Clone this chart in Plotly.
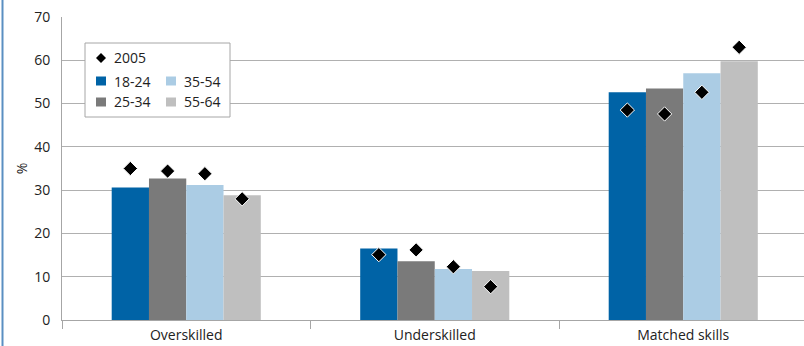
import plotly.graph_objects as go

categories = ["Overskilled", "Underskilled", "Matched skills"]
age_groups = ["18-24", "25-34", "35-54", "55-64"]

# latest values (bars)
v_18_24 = [30.6, 16.5, 52.6]
v_25_34 = [32.7, 13.6, 53.5]
v_35_54 = [31.2, 11.8, 57.0]
v_55_64 = [28.8, 11.3, 59.8]

# 2005 values (diamonds)
y2005_18_24 = [35.0, 15.1, 48.5]
y2005_25_34 = [34.4, 16.2, 47.6]
y2005_35_54 = [33.8, 12.3, 52.6]
y2005_55_64 = [28.0, 7.7, 63.0]

y_ticks = [0, 10, 20, 30, 40, 50, 60, 70]
y_title = "%"
marker_name = "2005"

bar_values = [v_18_24, v_25_34, v_35_54, v_55_64]
dot_values = [y2005_18_24, y2005_25_34, y2005_35_54, y2005_55_64]
colors = ["#0063A6", "#7A7A7A", "#ABCCE4", "#BFBFBF"]

W, H = 804, 346
ML, MR, MT, MB = 62, 0, 17, 26
PW, PH = W - ML - MR, H - MT - MB
FONT = "Open Sans"
TXT = "#222222"


def px(x):
    return (x - ML) / PW


def py(y):
    return (H - MB - y) / PH


fig = go.Figure()
for i, (name, vals) in enumerate(zip(age_groups, bar_values)):
    fig.add_trace(go.Bar(
        x=categories, y=vals, name=name, marker_color=colors[i],
        marker_line_width=0, offsetgroup=str(i), showlegend=False,
    ))
for i, vals in enumerate(dot_values):
    fig.add_trace(go.Scatter(
        x=categories, y=vals, mode="markers", name=marker_name,
        offsetgroup=str(i), showlegend=False,
        marker=dict(symbol="diamond", size=11, color="black",
                    line=dict(color="white", width=1)),
    ))

cat_w = 248.5
shapes = []
annotations = []

# left border line
shapes.append(dict(type="line", xref="paper", yref="paper",
                   x0=px(2.5), x1=px(2.5), y0=py(H), y1=py(0),
                   line=dict(color="#5A8FC2", width=2)))

# manual legend box
shapes.append(dict(type="rect", xref="paper", yref="paper",
                   x0=px(85), x1=px(230), y0=py(117), y1=py(43),
                   fillcolor="white", line=dict(color="#A6A6A6", width=1),
                   layer="above"))
# diamond entry
cx, cy, r = 101, 58, 5
path = (f"M {px(cx - r)},{py(cy)} L {px(cx)},{py(cy - r)} "
        f"L {px(cx + r)},{py(cy)} L {px(cx)},{py(cy + r)} Z")
shapes.append(dict(type="path", xref="paper", yref="paper", path=path,
                   fillcolor="black", line=dict(width=0), layer="above"))
annotations.append(dict(x=px(112), y=py(cy), xref="paper", yref="paper",
                        text=marker_name, showarrow=False, xanchor="left",
                        yanchor="middle", font=dict(family=FONT, size=14, color=TXT)))
# square entries: column-wise 18-24,25-34 | 35-54,55-64
positions = [(101, 81), (101, 102), (171, 81), (171, 102)]
for i, name in enumerate(age_groups):
    sx, sy = positions[i]
    shapes.append(dict(type="rect", xref="paper", yref="paper",
                       x0=px(sx - 5), x1=px(sx + 5), y0=py(sy + 4.5), y1=py(sy - 4.5),
                       fillcolor=colors[i], line=dict(width=0), layer="above"))
    annotations.append(dict(x=px(sx + 11), y=py(sy), xref="paper", yref="paper",
                            text=name, showarrow=False, xanchor="left",
                            yanchor="middle",
                            font=dict(family=FONT, size=14, color=TXT)))

fig.update_layout(
    width=W, height=H,
    margin=dict(l=ML, r=MR, t=MT, b=MB, autoexpand=False),
    paper_bgcolor="white", plot_bgcolor="white",
    barmode="group", bargap=0.4, bargroupgap=0,
    scattermode="group", scattergap=0.4,
    font=dict(family=FONT, size=13, color=TXT),
    shapes=shapes, annotations=annotations,
    xaxis=dict(
        type="category", range=[-0.5, -0.5 + PW / cat_w], automargin=False,
        showline=True, linecolor="#A6A6A6", linewidth=1,
        ticks="outside", tickson="boundaries", ticklen=8,
        tickcolor="#A6A6A6", tickwidth=1, showgrid=False,
        ticklabelstandoff=2,
        tickfont=dict(family=FONT, size=14, color=TXT),
    ),
    yaxis=dict(
        range=[0, 70], tickvals=y_ticks, showline=True, automargin=False,
        linecolor="#A6A6A6", linewidth=1, showgrid=True,
        gridcolor="#B0B0B0", gridwidth=1, zeroline=False,
        ticks="", ticklabelstandoff=8,
        tickfont=dict(family=FONT, size=14, color=TXT),
        title=dict(text=y_title, standoff=3,
                   font=dict(family=FONT, size=14, color=TXT)),
    ),
)

fig.write_html(
    "out.html",
    config={"displayModeBar": False},
    post_script="document.body.style.margin='0';document.body.style.overflow='hidden';",
)
